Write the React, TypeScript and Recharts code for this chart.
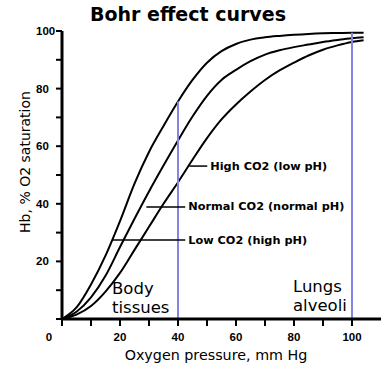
import React from "react";
import {
  Customized,
  Line,
  LineChart,
  ReferenceLine,
  XAxis,
  YAxis,
} from "recharts";

// oxygen pressure (mm Hg) and % saturation
const pressure = [0, 5, 10, 15, 20, 25, 30, 35, 40, 45, 50, 55, 60, 65, 70, 75, 80, 85, 90, 95, 100, 104];
const lowCo2 = [0, 4, 12, 22, 34, 47, 58, 67, 75.5, 83, 89, 93, 95.5, 97, 97.8, 98.3, 98.7, 99, 99.2, 99.3, 99.4, 99.4];
const normalCo2 = [0, 2.5, 7.5, 15, 25, 34.8, 44.3, 53.3, 62, 70.3, 77.5, 83, 86.5, 89.5, 91.8, 93.3, 94.4, 95.3, 96.2, 96.9, 97.5, 97.8];
const highCo2 = [0, 1.5, 4.5, 9.5, 16, 24, 32, 40, 47.5, 55.3, 62.8, 69.3, 74.5, 79, 83, 86.3, 89, 91.5, 93.5, 95, 96.2, 96.8];

const xTicks = [0, 10, 20, 30, 40, 50, 60, 70, 80, 90, 100];
const yTicks = [0, 10, 20, 30, 40, 50, 60, 70, 80, 90, 100];

const callouts = [
  { text: "High CO2 (low pH)", x1: 43.9, x2: 50.1, y: 53.1 },
  { text: "Normal CO2 (normal pH)", x1: 29.1, x2: 42.5, y: 38.9 },
  { text: "Low CO2 (high pH)", x1: 17.3, x2: 42.5, y: 27.4 },
];

const markers = [40, 100];

const data = pressure.map((p, i) => ({
  p,
  low: lowCo2[i],
  normal: normalCo2[i],
  high: highCo2[i],
}));

const tickFont = {
  fontFamily: "'Liberation Sans', Arial, sans-serif",
  fontWeight: 700,
  fontSize: 11.5,
  fill: "#000",
};

const XTick = (props: any) => {
  const { x, payload } = props;
  const v = payload.value;
  if (v === 0) {
    return (
      <text x={x - 13} y={337} textAnchor="middle" dominantBaseline="central" {...tickFont}>
        0
      </text>
    );
  }
  if (v % 20 !== 0) return <g />;
  return (
    <text x={x} y={337} textAnchor="middle" dominantBaseline="central" {...tickFont}>
      {v}
    </text>
  );
};

const YTick = (props: any) => {
  const { y, payload } = props;
  const v = payload.value;
  if (v === 0 || v % 20 !== 0) return <g />;
  return (
    <text x={36} y={y} textAnchor="start" dominantBaseline="central" {...tickFont}>
      {v}
    </text>
  );
};

const textFont = "'DejaVu Sans', Verdana, sans-serif";

const Decorations = () => (
  <g>
    <text x={188} y={21} textAnchor="middle" fontFamily={textFont} fontWeight={700} fontSize={19} fill="#000">
      Bohr effect curves
    </text>
    <text
      x={25}
      y={162}
      textAnchor="middle"
      dominantBaseline="central"
      transform="rotate(-90 25 162)"
      fontFamily={textFont}
      fontSize={14}
      fill="#000"
    >
      Hb, % O2 saturation
    </text>
    <text x={216} y={360} textAnchor="middle" fontFamily={textFont} fontSize={14.3} fill="#000">
      Oxygen pressure, mm Hg
    </text>
    <text x={112} y={294} fontFamily={textFont} fontSize={16.5} fill="#000">Body</text>
    <text x={112} y={313} fontFamily={textFont} fontSize={16.5} fill="#000">tissues</text>
    <text x={293} y={292} fontFamily={textFont} fontSize={16.5} fill="#000">Lungs</text>
    <text x={293} y={311} fontFamily={textFont} fontSize={16.5} fill="#000">alveoli</text>
  </g>
);

export default function App() {
  return (
    <div style={{ position: "absolute", left: 0, top: 0, width: 381, height: 373, background: "#fff" }}>
      <LineChart width={381} height={373} data={data} margin={{ top: 31, right: 0, left: 0, bottom: 0 }}>
        <XAxis
          dataKey="p"
          type="number"
          domain={[0, 110]}
          ticks={xTicks}
          interval={0}
          height={54}
          stroke="#000"
          axisLine={{ stroke: "#000", strokeWidth: 3 }}
          tickLine={{ stroke: "#000", strokeWidth: 2 }}
          tickSize={7}
          tick={<XTick />}
        />
        <YAxis
          type="number"
          domain={[0, 100]}
          ticks={yTicks}
          interval={0}
          width={62}
          stroke="#000"
          axisLine={{ stroke: "#000", strokeWidth: 3 }}
          tickLine={{ stroke: "#000", strokeWidth: 2 }}
          tickSize={6}
          tick={<YTick />}
        />
        <Line dataKey="low" type="monotone" stroke="#000" strokeWidth={2} dot={false} isAnimationActive={false} />
        <Line dataKey="normal" type="monotone" stroke="#000" strokeWidth={2} dot={false} isAnimationActive={false} />
        <Line dataKey="high" type="monotone" stroke="#000" strokeWidth={2} dot={false} isAnimationActive={false} />
        {markers.map((m) => (
          <ReferenceLine
            key={m}
            segment={[{ x: m, y: 0 }, { x: m, y: lowCo2[pressure.indexOf(m)] }]}
            stroke="#8484e2"
            strokeWidth={2}
          />
        ))}
        {callouts.map((c) => (
          <ReferenceLine
            key={c.text}
            segment={[{ x: c.x1, y: c.y }, { x: c.x2, y: c.y }]}
            stroke="#000"
            strokeWidth={1.5}
            label={(props: any) => {
              const vb = props.viewBox;
              return (
                <text
                  x={vb.x + vb.width + 3}
                  y={vb.y}
                  dominantBaseline="central"
                  fontFamily={textFont}
                  fontWeight={700}
                  fontSize={11.3}
                  fill="#000"
                >
                  {c.text}
                </text>
              );
            }}
          />
        ))}
        <Customized component={Decorations} />
      </LineChart>
    </div>
  );
}
